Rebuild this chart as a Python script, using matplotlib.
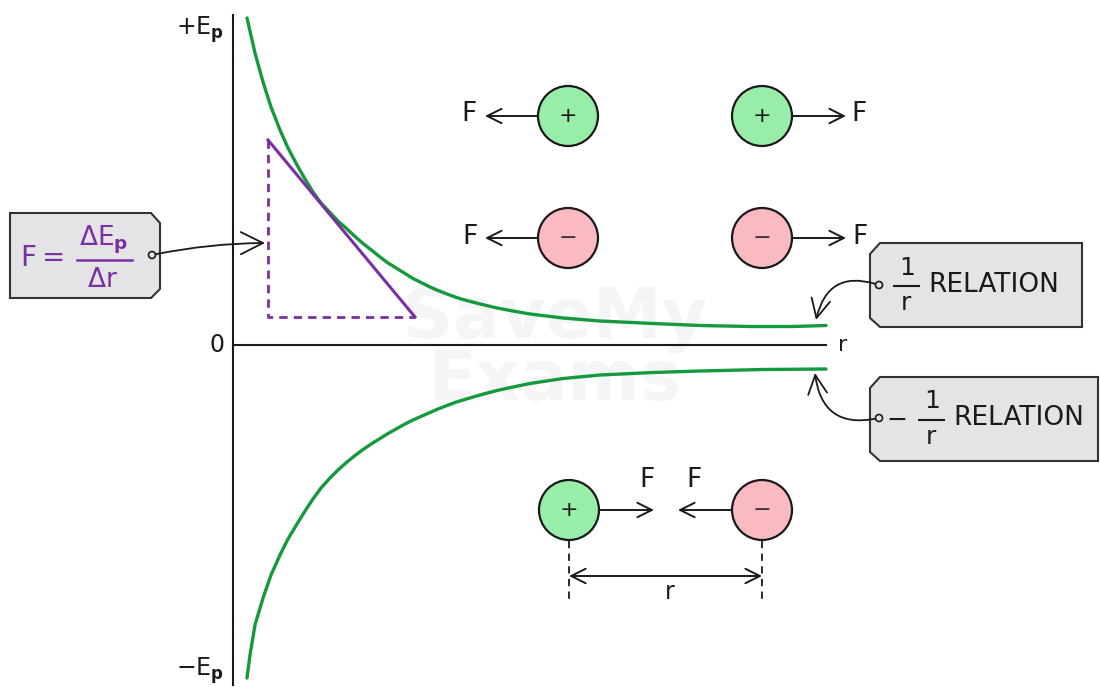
import matplotlib.pyplot as plt
from matplotlib.patches import Circle, Polygon, FancyArrowPatch

# upper curve, E_p = +k/r  (graph units = pixels from origin)
r_up = [14, 22, 30, 38, 47, 55, 64, 72, 80, 88, 97, 105, 114, 122, 130, 139, 147,
        155, 164, 172, 180, 189, 197, 205, 214, 222, 230, 247, 264, 280, 297, 330,
        367, 420, 467, 517, 560, 593]
ep_up = [327, 292, 263, 238, 215, 197, 180, 166, 153, 142, 132.5, 124, 116, 108.5,
         101.5, 94.5, 88, 82, 76.5, 71.5, 66.5, 62, 58, 54.5, 51, 48, 45.5, 41, 37,
         34, 31, 27, 24, 21.5, 19.5, 18.5, 18.5, 19.5]
# lower curve, E_p = -k/r
r_dn = [14, 17, 22, 30, 38, 47, 55, 64, 72, 80, 88, 97, 105, 114, 122, 130, 139,
        147, 155, 164, 172, 180, 189, 197, 205, 214, 222, 230, 247, 264, 280, 297,
        330, 367, 420, 467, 530, 593]
ep_dn = [-333, -310, -280, -253, -230, -210, -194, -179, -166, -154, -143, -133,
         -125, -117, -110.5, -104.5, -98.5, -93.5, -88.5, -83.5, -79, -75, -71,
         -67.5, -64, -60.5, -57.5, -55, -50, -45.5, -42, -38.5, -33.5, -30, -27.5,
         -26, -24.5, -24]
# tangent triangle
tan_r = [35, 182]
tan_ep = [205, 28]

X0, Y0 = 233, 345  # origin in pixels
W, H = 1100, 687

GREEN = '#149a3c'
PURPLE = '#7a2fa3'
PLUS = '#98eea9'
MINUS = '#fbb9c1'
BOXC = '#e4e4e6'
INK = '#1a1a1a'

plt.rcParams['font.family'] = ['DejaVu Sans']
plt.rcParams['mathtext.fontset'] = 'dejavusans'

fig = plt.figure(figsize=(11, 6.87), dpi=100)
ax = fig.add_axes([0, 0, 1, 1])
ax.set_xlim(0, W)
ax.set_ylim(H, 0)
ax.axis('off')

gx = fig.add_axes([0, 0, 1, 1])
gx.set_xlim(-X0, W - X0)
gx.set_ylim(Y0 - H, Y0)
gx.axis('off')
gx.patch.set_visible(False)

# watermark
ax.text(555, 350, 'SaveMy\nExams', fontsize=50, color='#f5f5f7', ha='center',
        va='center', fontweight='bold', zorder=0, linespacing=0.9)

# axes
ax.plot([X0, X0], [15, 685], color=INK, lw=1.5)
ax.plot([X0, 826], [Y0, Y0], color=INK, lw=1.5)
ax.text(843, 345, 'r', fontsize=16, ha='center', va='center', color=INK)
ax.text(217, 345, '0', fontsize=17, ha='center', va='center', color=INK)
ax.text(200, 30, r'+E$_\mathbf{p}$', fontsize=17, ha='center', va='center', color=INK)
ax.text(200, 671, r'$-$E$_\mathbf{p}$', fontsize=17, ha='center', va='center', color=INK)

# curves
gx.plot(r_up, ep_up, color=GREEN, lw=2.4, solid_capstyle='round', solid_joinstyle='round')
gx.plot(r_dn, ep_dn, color=GREEN, lw=2.4, solid_capstyle='round', solid_joinstyle='round')

# tangent + dashed triangle
gx.plot(tan_r, tan_ep, color=PURPLE, lw=2.2)
gx.plot([tan_r[0], tan_r[0], tan_r[1]], [tan_ep[0], tan_ep[1], tan_ep[1]],
        color=PURPLE, lw=2.0, ls=(0, (3, 2.2)))


def charge(x, y, sign):
    fc = PLUS if sign == '+' else MINUS
    ax.add_patch(Circle((x, y), 30, fc=fc, ec=INK, lw=1.6, zorder=3))
    ax.text(x, y, '+' if sign == '+' else '\u2212', fontsize=16, ha='center',
            va='center', color=INK if sign == '+' else '#333333', zorder=4)


def arrow(x1, y1, x2, y2, style='->'):
    ax.add_patch(FancyArrowPatch((x1, y1), (x2, y2), arrowstyle=style,
                                 mutation_scale=26, color=INK, lw=1.4,
                                 shrinkA=0, shrinkB=0, zorder=2))


# repulsion pairs
charge(568, 116, '+')
charge(762, 116, '+')
charge(568, 238, '-')
charge(762, 238, '-')
arrow(538, 116, 485, 116)
arrow(792, 116, 846, 116)
arrow(538, 238, 485, 238)
arrow(792, 238, 846, 238)
for x, y in [(469, 114), (859, 114), (470, 237), (860, 237)]:
    ax.text(x, y, 'F', fontsize=19, ha='center', va='center', color=INK)

# attraction pair
charge(569, 510, '+')
charge(762, 510, '-')
arrow(599, 510, 654, 510)
arrow(732, 510, 678, 510)
ax.text(647, 480, 'F', fontsize=19, ha='center', va='center', color=INK)
ax.text(694, 480, 'F', fontsize=19, ha='center', va='center', color=INK)
for x in [569, 762]:
    ax.plot([x, x], [541, 600], color=INK, lw=1.3, ls=(0, (4, 3)))
arrow(569, 576, 762, 576, '<->')
ax.text(670, 592, 'r', fontsize=17, ha='center', va='center', color=INK)

# label boxes
ax.add_patch(Polygon([(10, 213), (151, 213), (160, 223), (160, 289), (151, 298),
                      (10, 298)], closed=True, fc=BOXC, ec='#333333', lw=1.5, zorder=3))
ax.add_patch(Polygon([(880, 243), (1082, 243), (1082, 327), (880, 327), (870, 318),
                      (870, 254)], closed=True, fc=BOXC, ec='#333333', lw=1.5, zorder=3))
ax.add_patch(Polygon([(880, 377), (1098, 377), (1098, 461), (880, 461), (870, 452),
                      (870, 388)], closed=True, fc=BOXC, ec='#333333', lw=1.5, zorder=3))

# left formula F = dEp / dr
ax.text(28, 258, 'F', fontsize=20, ha='center', va='center', color=PURPLE, zorder=4)
ax.text(54, 258, '=', fontsize=20, ha='center', va='center', color=PURPLE, zorder=4)
ax.text(104, 240, r'$\Delta$E$_\mathbf{p}$', fontsize=19, ha='center', va='center',
        color=PURPLE, zorder=4)
ax.plot([77, 132], [260, 260], color=PURPLE, lw=1.8, zorder=4)
ax.text(102, 280, r'$\Delta$r', fontsize=19, ha='center', va='center', color=PURPLE,
        zorder=4)

# right labels
ax.text(907, 268, '1', fontsize=18, ha='center', va='center', color=INK, zorder=4)
ax.plot([894, 919], [286, 286], color=INK, lw=1.5, zorder=4)
ax.text(906, 303, 'r', fontsize=18, ha='center', va='center', color=INK, zorder=4)
ax.text(928, 285, 'RELATION', fontsize=19, ha='left', va='center', color=INK, zorder=4)

ax.text(897, 420, '\u2212', fontsize=18, ha='center', va='center', color=INK, zorder=4)
ax.text(932, 401, '1', fontsize=18, ha='center', va='center', color=INK, zorder=4)
ax.plot([919, 944], [420, 420], color=INK, lw=1.5, zorder=4)
ax.text(931, 437, 'r', fontsize=18, ha='center', va='center', color=INK, zorder=4)
ax.text(953, 418, 'RELATION', fontsize=19, ha='left', va='center', color=INK, zorder=4)

# pointer hooks
for x, y in [(152, 255), (879, 285), (879, 418)]:
    ax.add_patch(Circle((x, y), 3.5, fc=BOXC, ec=INK, lw=1.2, zorder=5))
ax.add_patch(FancyArrowPatch((152, 255), (265, 243), arrowstyle='->',
                             connectionstyle='arc3,rad=-0.05', mutation_scale=40,
                             color=INK, lw=1.3, shrinkA=3, shrinkB=0, zorder=5))
ax.add_patch(FancyArrowPatch((879, 285), (816, 320), arrowstyle='->',
                             connectionstyle='arc3,rad=0.55', mutation_scale=34,
                             color=INK, lw=1.3, shrinkA=3, shrinkB=0, zorder=5))
ax.add_patch(FancyArrowPatch((879, 418), (815, 373), arrowstyle='->',
                             connectionstyle='arc3,rad=-0.55', mutation_scale=34,
                             color=INK, lw=1.3, shrinkA=3, shrinkB=0, zorder=5))

fig.savefig('out.png', dpi=100)
